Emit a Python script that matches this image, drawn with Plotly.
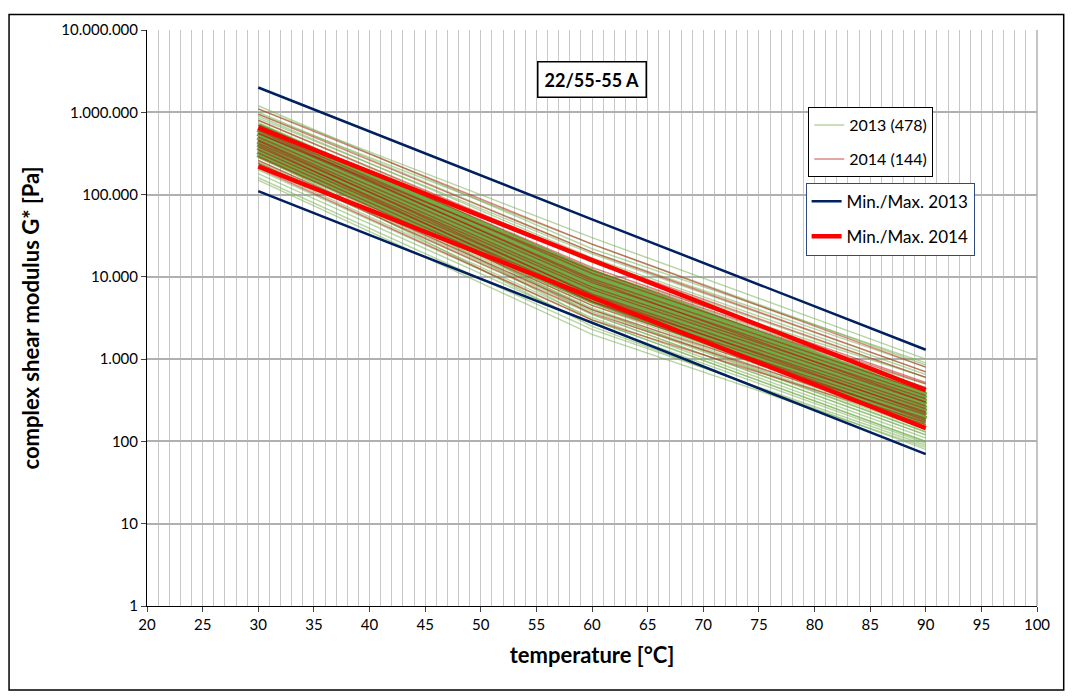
import plotly.graph_objects as go

temps = [30, 60, 90]

# 2013 sample curves (G* at 30, 60, 90 °C)
g2013 = [
    [1200000, 22000, 900], [1000000, 20000, 800], [900000, 17000, 650], [800000, 15000, 600],
    [750000, 12000, 450], [700000, 11000, 420], [650000, 10000, 380], [600000, 9000, 350],
    [560000, 8500, 330], [520000, 8000, 300], [500000, 7600, 280], [480000, 7200, 270],
    [460000, 7000, 260], [440000, 6800, 250], [420000, 6500, 240], [400000, 6200, 230],
    [380000, 6000, 220], [360000, 5700, 210], [350000, 5500, 200], [340000, 5200, 190],
    [320000, 5000, 180], [300000, 4800, 170], [290000, 4500, 160], [280000, 4200, 150],
    [260000, 4000, 140], [250000, 3800, 130], [240000, 3500, 120], [220000, 3200, 110],
    [200000, 3000, 100], [180000, 2700, 95], [160000, 2300, 90], [150000, 2000, 85],
    [1100000, 30000, 1000], [950000, 25000, 850], [850000, 19000, 700], [300000, 2500, 80],
    [450000, 3000, 100], [550000, 3500, 120], [700000, 7000, 200], [380000, 4000, 130],
    [420000, 9000, 500], [500000, 12000, 600], [330000, 8000, 450], [620000, 6000, 160],
]
# dense core of the 2013 population
g2013_core = [
    [650000, 11000, 350], [580000, 9800, 320], [520000, 8800, 290], [470000, 8000, 265],
    [430000, 7300, 240], [390000, 6600, 220], [350000, 6000, 200], [320000, 5400, 180],
]
# 2014 sample curves
g2014 = [
    [1100000, 25000, 800], [950000, 20000, 700], [800000, 16000, 600], [700000, 13000, 520],
    [620000, 11000, 450], [560000, 9500, 400], [500000, 8500, 360], [460000, 7500, 330],
    [420000, 7000, 300], [380000, 6200, 270], [350000, 5600, 250], [320000, 5000, 230],
    [290000, 4500, 210], [260000, 4000, 190], [240000, 3600, 170], [210000, 3000, 160],
    [600000, 9000, 300], [450000, 6000, 220], [550000, 12000, 500], [400000, 5000, 180],
]
minmax2013 = [[2000000, 50000, 1300], [110000, 2800, 70]]
minmax2014 = [[650000, 16000, 420], [220000, 5600, 145]]

ytickvals = [1, 10, 100, 1000, 10000, 100000, 1000000, 10000000]
yticktext = ["1", "10", "100", "1.000", "10.000", "100.000", "1.000.000", "10.000.000"]
xtickvals = list(range(20, 101, 5))

fig = go.Figure()
for i, g in enumerate(g2013):
    fig.add_trace(go.Scatter(x=temps, y=g, mode="lines", line=dict(color="rgba(112,173,71,0.5)", width=1.5),
                             name="2013 (478)", legendgroup="a", showlegend=(i == 0), legend="legend"))
for g in g2013_core:
    fig.add_trace(go.Scatter(x=temps, y=g, mode="lines", line=dict(color="rgb(112,173,71)", width=9),
                             legendgroup="a", showlegend=False))
for i, g in enumerate(g2014):
    fig.add_trace(go.Scatter(x=temps, y=g, mode="lines", line=dict(color="rgba(185,20,10,0.5)", width=1.5),
                             name="2014 (144)", legendgroup="b", showlegend=(i == 0), legend="legend"))
for i, g in enumerate(minmax2013):
    fig.add_trace(go.Scatter(x=temps, y=g, mode="lines", line=dict(color="#002060", width=2.5),
                             name="Min./Max. 2013", legendgroup="c", showlegend=(i == 0), legend="legend2"))
for i, g in enumerate(minmax2014):
    fig.add_trace(go.Scatter(x=temps, y=g, mode="lines", line=dict(color="#FF0000", width=4.5),
                             name="Min./Max. 2014", legendgroup="d", showlegend=(i == 0), legend="legend2"))

fig.update_layout(
    width=1057, height=684, paper_bgcolor="white", plot_bgcolor="white",
    margin=dict(l=139, r=28, t=17, b=86),
    font=dict(family="Lato, Liberation Sans, sans-serif", size=15, color="black"),
    legend=dict(x=0.743, y=0.866, xanchor="left", yanchor="top", bgcolor="white",
                bordercolor="black", borderwidth=1, font=dict(size=16)),
    legend2=dict(x=0.740, y=0.735, xanchor="left", yanchor="top", bgcolor="white",
                 bordercolor="#2F4A7F", borderwidth=1, font=dict(size=17)),
    xaxis=dict(range=[20, 100], tickvals=xtickvals, ticks="outside", ticklen=5,
               showgrid=False, showline=True, linecolor="black",
               minor=dict(dtick=1, showgrid=True, gridcolor="#C8C8C8", gridwidth=1),
               title=dict(text="<b>temperature [°C]</b>", font=dict(size=22)), zeroline=False),
    yaxis=dict(type="log", range=[0, 7], tickvals=ytickvals, ticktext=yticktext, ticks="outside", ticklen=5,
               showgrid=True, gridcolor="#B0B0B0", gridwidth=1.5, showline=True, linecolor="black",
               title=dict(text="<b>complex shear modulus G* [Pa]</b>", font=dict(size=22))),
    shapes=[dict(type="line", xref="paper", yref="paper", x0=1.0, x1=1.0, y0=0, y1=1,
                 line=dict(color="#B0B0B0", width=1.5)),
            dict(type="rect", xref="paper", yref="paper", x0=-0.1550, x1=1.0300, y0=-0.1460, y1=1.0270,
                 line=dict(color="black", width=1.5))],
    annotations=[dict(text="<b>22/55-55 A</b>", xref="paper", yref="paper", x=0.5, y=0.946,
                      showarrow=False, font=dict(size=18), bordercolor="black", borderwidth=1.5,
                      borderpad=6, bgcolor="white")],
)
fig.write_html("out.html")
